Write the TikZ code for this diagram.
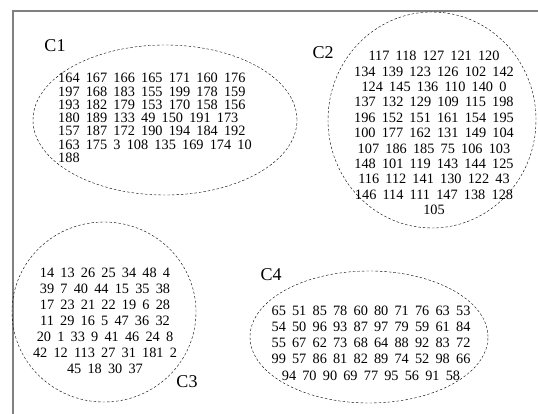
\documentclass[tikz,border=0pt]{standalone}
\usepackage{fontspec}
\setmainfont{Liberation Serif}
\usetikzlibrary{shapes.geometric,positioning}
\newcommand\widespaces{\spaceskip=6.2pt\relax}

\begin{document}
\begin{tikzpicture}[
    x=1pt, y=-1pt,
    cluster/.style={ellipse, draw, thin, dash pattern=on 2.5pt off 2pt, inner sep=0pt},
    members/.style={inner sep=0pt, font=\fontsize{14.3}{#1}\selectfont\widespaces},
    members/.default=15.5,
    tag/.style={inner sep=0pt, font=\fontsize{18}{18}\selectfont},
    frame/.style={draw=gray, line width=1.3pt}
]
\useasboundingbox (0,0) rectangle (538,414);
\draw[frame] (13,414) -- (13,11) -- (538,11);

% clusters
\node[cluster, minimum width=264pt, minimum height=150pt] (c1) at (165,120) {};
\node[cluster, minimum width=208pt, minimum height=216pt] (c2) at (432,120) {};
\node[cluster, minimum width=184pt, minimum height=180pt] (c3) at (104,312) {};
\node[cluster, minimum width=238pt, minimum height=132pt] (c4) at (369,337) {};

% members of each cluster
\node[members=13.3, align=left, anchor=west] (c1txt) at (58,118) {164 167 166 165 171 160 176\\197 168 183 155 199 178 159\\193 182 179 153 170 158 156\\180 189 133 49 150 191 173\\157 187 172 190 194 184 192\\163 175 3 108 135 169 174 10\\188};
\node[members=15.4, align=center] (c2txt) at (434,133) {117 118 127 121 120\\134 139 123 126 102 142\\124 145 136 110 140 0\\137 132 129 109 115 198\\196 152 151 161 154 195\\100 177 162 131 149 104\\107 186 185 75 106 103\\148 101 119 143 144 125\\116 112 141 130 122 43\\146 114 111 147 138 128\\105};
\node[members=15.9, align=center] (c3txt) at (105,321) {14 13 26 25 34 48 4\\39 7 40 44 15 35 38\\17 23 21 22 19 6 28\\11 29 16 5 47 36 32\\20 1 33 9 41 46 24 8\\42 12 113 27 31 181 2\\45 18 30 37};
\node[members=16.2, align=center] (c4txt) at (371,343) {65 51 85 78 60 80 71 76 63 53\\54 50 96 93 87 97 79 59 61 84\\55 67 62 73 68 64 88 92 83 72\\99 57 86 81 82 89 74 52 98 66\\94 70 90 69 77 95 56 91 58};

% cluster names
\node[tag] (c1lab) at (55,46) {C1};
\node[tag] (c2lab) at (323,53) {C2};
\node[tag] (c3lab) at (187,382) {C3};
\node[tag] (c4lab) at (271,275) {C4};
\end{tikzpicture}
\end{document}
